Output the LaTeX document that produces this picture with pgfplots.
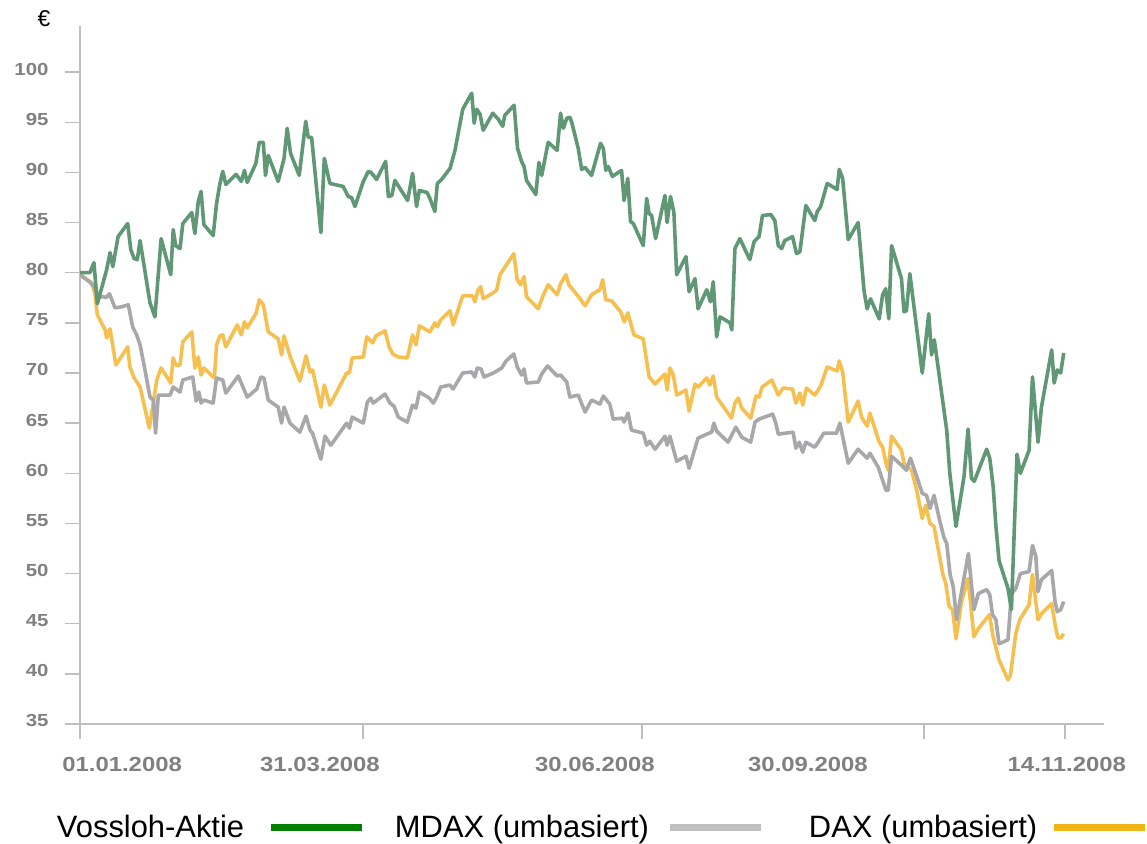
\documentclass[border=0pt]{standalone}
\usepackage{pgfplots}
\pgfplotsset{compat=1.18}
\usepackage{fontspec}
\setmainfont{Liberation Sans}
\newfontfamily\tickfont[FakeStretch=1.17]{Liberation Sans}
\definecolor{vgreen}{RGB}{96,152,118}
\definecolor{mgrey}{RGB}{168,168,171}
\definecolor{dgold}{RGB}{245,192,80}
\definecolor{lgreen}{RGB}{0,128,0}
\definecolor{lgrey}{RGB}{192,192,192}
\definecolor{lgold}{RGB}{240,180,20}
\definecolor{axgrey}{RGB}{191,191,191}
\definecolor{lblgrey}{RGB}{128,128,128}
\begin{document}
\begin{tikzpicture}
\path[use as bounding box] (0bp,0bp) rectangle (1147bp,844bp);
\node[anchor=center, font=\fontsize{23}{26}\selectfont] at (44bp,825bp) {€};
\begin{axis}[
  at={(80bp,120bp)}, anchor=south west,
  scale only axis, width=1024bp, height=698bp,
  xmin=0, xmax=330.7, ymin=35, ymax=104.6,
  axis lines*=left,
  axis line style={axgrey, line width=2bp},
  tick style={axgrey, line width=1.5bp},
  tick align=outside,
  major tick length=15bp,
  /pgf/number format/assume math mode=true,
  ytick={35,40,...,100},
  yticklabel style={font=\tickfont\bfseries\fontsize{17.5}{20}\selectfont, text=lblgrey, xshift=-13bp, yshift=3bp},
  xtick={0,91.4,181.5,272.5,318.1},
  xticklabels={,,,,},
  extra x ticks={13.6,77.5,166.3,235.1,318.7},
  extra x tick labels={01.01.2008,31.03.2008,30.06.2008,30.09.2008,14.11.2008},
  extra x tick style={major tick length=0pt},
  xticklabel style={font=\tickfont\bfseries\fontsize{20.5}{24}\selectfont, text=lblgrey, yshift=-30bp},
  legend plot pos=right,
  legend columns=3,
  legend image code/.code={\draw[#1] (0bp,0bp) -- (91bp,0bp);},
  legend style={at={(-0.02246,-0.1476)}, anchor=west, draw=none, fill=none,
    inner sep=0pt, outer sep=0pt, column sep=0pt,
    font=\fontsize{31}{36}\selectfont, nodes={inner sep=0pt}},
  line join=round,
]
\addlegendimage{lgreen, line width=7bp}
\addlegendentry{\makebox[210.5bp][l]{Vossloh-Aktie}}
\addlegendimage{lgrey, line width=7bp}
\addlegendentry{\makebox[301bp][l]{\hspace{29.5bp}MDAX (umbasiert)}}
\addlegendimage{lgold, line width=7bp}
\addlegendentry{\makebox[286bp][l]{\hspace{44.5bp}DAX (umbasiert)}}

% DAX (umbasiert)
\addplot[dgold, line width=3.6bp, forget plot] coordinates {
(0,79.8)(3.8,79.0)(4.8,77.9)(5.6,75.8)(8.1,74.3)(8.6,73.5)(9.7,74.4)(11.6,70.8)(15.4,72.6)(16.1,70.6)
(17.5,69.5)(19.4,68.6)(22.4,64.5)(24.8,69.3)(26.2,70.5)(29.3,69.0)(30.1,71.5)(30.9,70.8)(32.3,70.8)(33.2,73.1)
(36.1,74.1)(37.1,70.5)(38.2,71.6)(39.1,69.8)(40.0,70.5)(43.4,69.5)(44.1,72.8)(45.2,73.7)(46.1,73.8)(47.1,72.6)
(50.8,74.8)(52.1,73.8)(53.1,75.1)(54.0,74.5)(56.8,75.9)(57.9,77.3)(59.2,76.8)(60.8,74.1)(64.0,73.4)(65.1,71.8)
(65.9,73.7)(67.8,71.7)(71.0,69.2)(73.0,71.7)(74.3,70.1)(75.1,70.3)(77.8,66.6)(78.9,68.8)(80.7,66.8)(86.1,70.0)
(87.0,70.0)(87.9,71.5)(91.5,71.6)(92.6,73.6)(94.5,73.0)(95.6,73.7)(98.5,74.2)(99.8,72.6)(101.0,71.9)(102.8,71.6)
(105.7,71.5)(107.4,73.8)(108.5,72.8)(109.6,74.7)(113.0,74.1)(114.6,75.0)(115.4,74.6)(116.5,75.3)(119.5,76.2)(120.5,74.8)
(123.6,77.7)(126.8,77.7)(127.5,77.1)(128.6,78.3)(129.4,78.6)(130.2,77.4)(133.5,78.0)(134.6,78.3)(135.6,79.8)(136.7,80.3)
(140.1,81.9)(141.2,79.3)(142.3,78.8)(143.4,79.6)(144.2,77.6)(148.0,76.4)(149.4,77.6)(151.2,78.8)(154.1,77.8)(155.2,78.9)
(156.9,79.8)(157.9,78.8)(161.5,77.4)(163.1,76.7)(165.2,77.8)(167.9,78.3)(168.8,79.3)(169.8,77.3)(171.7,77.2)(174.6,76.1)
(175.8,75.1)(176.9,76.0)(178.9,73.8)(181.9,73.4)(183.8,69.6)(185.7,68.9)(188.9,69.9)(189.6,68.3)(190.5,70.5)(191.6,69.8)
(192.7,67.8)(195.7,68.3)(196.7,66.2)(198.6,68.9)(199.6,68.6)(202.4,69.5)(203.4,68.8)(204.5,69.7)(205.6,67.6)(210.4,65.5)
(211.5,67.0)(212.6,67.5)(213.7,66.5)(216.6,65.5)(218.3,67.7)(219.3,67.6)(220.3,68.6)(223.4,69.3)(225.5,67.8)(227.1,68.5)
(230.1,68.4)(231.2,67.0)(232.5,68.0)(233.4,66.8)(234.6,68.5)(237.3,67.8)(239.2,68.7)(241.3,70.6)(244.5,70.2)(245.2,71.2)
(246.3,70.1)(248.1,65.1)(251.3,67.2)(252.4,65.6)(254.2,64.7)(255.1,66.0)(258.1,63.1)(259.2,62.6)(260.3,61.0)(261.0,60.3)
(262.1,63.7)(265.3,62.3)(266.1,61.0)(267.5,60.6)(268.6,60.3)(270.2,58.3)(272.0,55.5)(273.1,56.8)(274.5,55.0)(275.8,54.7)
(278.6,50.0)(279.6,49.0)(280.7,46.7)(281.8,46.4)(282.9,43.5)(284.7,47.2)(286.8,49.5)(288.7,43.7)(290.1,44.5)(293.7,45.9)
(294.9,43.7)(296.8,41.4)(299.7,39.4)(300.5,39.9)(302.2,44.0)(303.5,45.4)(306.5,46.9)(307.6,49.9)(309.4,45.4)(310.5,46.0)
(313.8,47.0)(314.9,44.9)(315.8,43.6)(316.8,43.6)(317.7,44.0)
};

% MDAX (umbasiert)
\addplot[mgrey, line width=3.6bp, forget plot] coordinates {
(0,79.8)(3.0,79.1)(4.6,78.6)(5.7,77.6)(7.7,77.6)(8.4,77.5)(9.5,77.9)(11.3,76.5)(13.5,76.6)(15.6,76.8)
(17.0,74.6)(18.3,73.8)(19.4,72.8)(20.8,70.6)(22.6,67.6)(23.7,67.3)(24.4,64.0)(25.3,67.8)(29.1,67.8)(30.1,68.6)
(32.3,68.1)(33.2,69.3)(36.4,69.6)(37.5,67.2)(38.4,68.1)(39.1,67.0)(40.0,67.3)(43.0,67.0)(44.1,69.5)(46.1,69.3)
(47.1,68.0)(51.1,69.7)(52.5,68.7)(54.0,67.6)(57.1,68.4)(58.4,69.6)(59.4,69.5)(60.8,67.3)(64.0,66.6)(65.1,65.0)
(65.9,66.6)(67.8,65.0)(71.0,64.1)(73.0,65.7)(74.3,64.3)(75.1,64.0)(77.8,61.4)(79.1,63.7)(81.0,62.8)(86.1,65.0)
(87.0,64.5)(87.9,65.6)(91.5,65.0)(92.8,67.1)(93.9,67.5)(94.7,67.0)(98.5,67.9)(100.1,67.0)(101.4,66.7)(102.8,65.6)
(105.7,65.1)(107.4,66.8)(108.5,66.5)(109.6,68.1)(112.8,67.5)(114.1,67.0)(115.2,67.6)(116.5,68.6)(119.5,68.8)(120.5,68.4)
(123.6,70.0)(126.5,70.1)(127.5,69.6)(128.3,70.5)(129.5,70.4)(130.5,69.6)(133.5,70.0)(136.2,70.5)(137.6,71.2)(140.1,71.9)
(141.2,70.6)(142.6,69.8)(143.4,70.4)(144.2,69.0)(148.0,69.1)(149.1,69.9)(151.0,70.7)(154.1,69.7)(155.2,69.8)(157.2,69.1)
(158.2,67.6)(160.9,67.8)(163.1,66.1)(165.2,67.3)(167.9,66.9)(169.0,67.7)(171.1,66.9)(172.2,65.4)(175.2,65.5)(175.7,65.1)
(177.0,66.0)(178.1,64.3)(181.9,64.0)(183.0,62.8)(184.0,63.2)(185.7,62.4)(188.9,63.7)(189.6,62.8)(190.5,63.7)(192.7,61.2)
(195.7,61.7)(196.7,60.5)(199.6,63.5)(202.4,63.9)(204.0,64.1)(204.7,65.0)(205.6,64.2)(209.3,63.1)(211.8,64.6)(213.7,63.6)
(216.6,63.1)(218.0,65.1)(219.3,65.4)(223.7,65.9)(224.7,65.0)(225.5,63.9)(230.3,64.1)(231.2,62.5)(232.3,63.1)(233.4,62.1)
(234.4,63.1)(237.3,62.6)(238.4,63.1)(240.2,64.0)(244.3,64.0)(245.4,65.0)(248.1,61.0)(251.3,62.4)(254.2,61.5)(255.1,62.0)
(257.8,60.6)(259.2,59.3)(260.3,58.3)(261.0,58.3)(262.1,61.7)(265.3,60.8)(266.9,60.3)(268.2,61.5)(270.2,59.7)(272.0,58.0)
(273.4,57.8)(274.5,56.5)(275.8,57.8)(277.7,55.2)(279.0,53.6)(279.9,53.0)(281.0,49.9)(282.0,48.7)(283.1,45.4)(286.9,52.0)
(288.7,46.4)(290.1,48.0)(292.8,48.4)(293.8,47.9)(294.7,45.9)(295.8,45.4)(296.8,43.0)(299.7,43.4)(300.8,48.0)(302.2,48.5)
(303.7,50.0)(306.5,50.2)(307.6,52.8)(308.7,51.7)(309.4,48.2)(310.5,49.4)(313.8,50.3)(314.9,47.2)(315.6,46.2)(316.7,46.4)
(317.7,47.2)
};

% Vossloh-Aktie
\addplot[vgreen, line width=3.6bp, forget plot] coordinates {
(0,80.0)(3.2,80.0)(4.5,81.0)(5.6,76.9)(8.6,80.3)(9.7,82.0)(10.6,80.6)(12.3,83.6)(15.4,84.9)(16.4,82.3)
(17.5,81.4)(18.5,81.3)(19.4,83.2)(22.6,77.0)(24.2,75.6)(26.2,83.4)(29.3,79.8)(30.1,84.3)(30.9,82.7)(32.3,82.4)
(33.2,84.9)(36.1,86.0)(37.1,83.9)(38.2,87.1)(39.1,88.1)(40.0,84.8)(43.0,83.7)(44.1,86.9)(45.2,88.9)(46.1,90.1)
(47.1,88.8)(50.4,89.8)(52.1,89.1)(53.1,90.2)(54.0,89.0)(56.8,90.9)(57.9,93.0)(59.2,93.0)(59.9,89.7)(60.8,91.7)
(64.0,89.1)(65.9,91.4)(66.9,94.4)(68.0,91.9)(70.8,89.7)(72.9,95.1)(73.7,93.5)(74.8,93.5)(77.8,84.0)(78.9,91.4)
(80.7,88.9)(85.0,88.6)(86.6,87.6)(87.7,87.5)(88.8,86.6)(91.5,89.1)(93.1,90.1)(94.0,90.0)(95.8,89.3)(98.7,91.1)
(99.6,87.6)(100.7,87.7)(101.7,89.2)(105.8,87.2)(107.4,89.9)(108.7,86.6)(109.6,88.2)(112.1,88.0)(113.0,87.4)(114.6,86.1)
(115.4,88.9)(116.8,89.3)(119.5,90.4)(121.1,92.2)(123.6,96.3)(126.5,97.9)(127.3,94.9)(128.1,96.3)(129.2,95.8)(130.2,94.2)
(133.3,95.9)(135.1,95.3)(136.5,94.6)(137.2,95.7)(140.2,96.7)(141.3,92.4)(142.6,91.1)(143.4,90.6)(144.2,89.2)(147.2,87.8)
(148.2,91.0)(149.1,89.7)(151.2,93.0)(154.1,92.2)(155.2,95.9)(156.1,94.4)(157.2,95.4)(158.2,95.5)(158.8,95.0)(160.9,92.4)
(162.0,90.3)(163.1,90.5)(165.2,89.7)(168.1,92.9)(169.0,92.4)(169.8,90.2)(170.6,90.6)(171.9,89.6)(174.9,90.2)(175.7,87.2)
(176.9,89.4)(177.8,85.1)(178.7,84.9)(181.9,82.7)(183.0,87.4)(183.8,85.9)(184.6,85.7)(185.9,83.4)(188.9,87.7)(189.6,85.0)
(190.7,87.6)(191.8,86.0)(192.7,79.8)(195.7,81.6)(196.7,78.1)(198.6,79.4)(199.6,76.4)(202.4,78.3)(203.6,77.1)(204.5,79.1)
(205.6,73.6)(206.7,75.6)(209.9,75.0)(210.5,74.3)(211.5,82.4)(213.1,83.4)(216.3,81.3)(217.7,83.1)(219.3,83.6)(220.4,85.7)
(223.1,85.8)(224.4,85.2)(225.5,82.7)(226.6,82.4)(227.6,83.2)(230.1,83.6)(231.4,81.9)(232.5,82.1)(234.4,86.7)(237.3,85.2)
(238.1,86.1)(239.2,86.6)(241.3,88.9)(244.5,88.3)(245.2,90.3)(246.3,89.4)(248.1,83.3)(251.3,85.0)(253.2,78.2)(254.2,76.4)
(255.3,77.4)(258.1,75.4)(259.2,77.8)(260.2,78.4)(261.2,75.4)(262.1,82.7)(265.3,79.4)(266.1,76.1)(266.9,76.2)(268.0,79.9)
(272.0,70.0)(274.1,75.9)(275.0,71.8)(275.9,73.3)(279.9,64.3)(280.9,60.0)(282.9,54.7)(285.5,59.7)(286.8,64.4)(287.9,59.5)
(288.8,59.2)(292.8,62.4)(293.8,61.5)(294.9,58.7)(295.8,54.7)(296.8,51.3)(299.7,48.5)(300.8,46.4)(302.6,61.9)(303.7,60.0)
(306.5,62.3)(307.6,69.6)(309.4,63.1)(310.5,66.6)(313.8,72.3)(314.6,69.0)(315.6,70.3)(316.7,70.0)(317.7,72.0)
};
\end{axis}
\end{tikzpicture}
\end{document}
